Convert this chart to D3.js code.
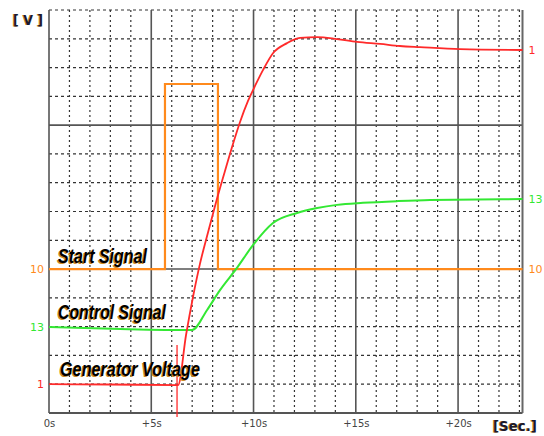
<!DOCTYPE html>
<html>
<head>
<meta charset="utf-8">
<script src="https://cdn.jsdelivr.net/npm/d3@7"></script>
<style>
  html, body { margin: 0; padding: 0; background: #fff; }
  svg { display: block; }
</style>
</head>
<body>
<svg id="chart" width="544" height="436"></svg>
<script>
// Time axis (seconds) and screen divisions
const timeTicks = [0, 5, 10, 15, 20];
const tickLabels = ["0s", "+5s", "+10s", "+15s", "+20s"];
const timeMax = 23.15;
const divisions = 14;

// Start Signal (orange), in divisions
const startT = [0, 5.67, 5.67, 8.26, 8.26, 23.15];
const startV = [5, 5, 11.43, 11.43, 5, 5];

// Control Signal (green)
const controlT = [0, 3.47, 6.99, 7.73, 8.36, 9.19, 9.98, 10.95, 12.13, 13.11, 14.08, 15.35, 17.02, 18.63, 23.15];
const controlV = [2.99, 2.92, 2.88, 3.58, 4.27, 5.04, 5.84, 6.60, 6.95, 7.12, 7.23, 7.30, 7.36, 7.40, 7.43];

// Generator Voltage (red)
const genT = [0, 3.0, 6.31, 6.70, 7.04, 7.38, 7.78, 8.17, 8.56, 8.95, 9.34, 9.73, 10.12, 10.46, 10.95, 11.64, 12.27, 13.11, 14.08, 15.06, 16.19, 17.16, 18.14, 20.1, 23.15];
const genV = [1.0, 0.99, 0.97, 2.71, 4.03, 5.18, 6.29, 7.33, 8.30, 9.24, 10.11, 10.84, 11.43, 11.91, 12.50, 12.85, 13.03, 13.06, 12.99, 12.89, 12.82, 12.75, 12.71, 12.64, 12.61];
// Switching spike on the generator trace
const spikeT = [6.26, 6.26];
const spikeV = [2.36, -0.14];

// Channel markers
const channelNames = ["Start Signal", "Control Signal", "Generator Voltage"];
const channelTags = ["10", "13", "1"];
const channelColors = ["#ff8a1c", "#33e833", "#ff2a2a"];

const svg = d3.select("#chart");
const plotLeft = 49, plotRight = 522.5, plotTop = 10, plotBottom = 413;

const x = d3.scaleLinear().domain([0, timeMax]).range([plotLeft, plotRight]);
const y = d3.scaleLinear().domain([0, divisions]).range([plotBottom, plotTop]);

// Grid: dotted every second / division, solid every fifth
const grid = svg.append("g");
d3.range(1, 24).filter(s => s % 5 !== 0 && s < timeMax).forEach(s => {
  grid.append("line")
    .attr("x1", x(s)).attr("x2", x(s)).attr("y1", plotTop).attr("y2", plotBottom)
    .attr("stroke", "#333").attr("stroke-width", 1.2).attr("stroke-dasharray", "2,3");
});
d3.range(1, divisions + 1).forEach(d => {
  const solid = d % 5 === 0;
  grid.append("line")
    .attr("x1", plotLeft).attr("x2", plotRight).attr("y1", y(d)).attr("y2", y(d))
    .attr("stroke", solid ? "#555" : "#333")
    .attr("stroke-width", solid ? 1.6 : 1.2)
    .attr("stroke-dasharray", solid ? null : "3,3");
});
timeTicks.forEach(s => {
  grid.append("line")
    .attr("x1", x(s)).attr("x2", x(s)).attr("y1", plotTop).attr("y2", plotBottom)
    .attr("stroke", "#555").attr("stroke-width", 1.6);
});
grid.append("line").attr("x1", plotLeft).attr("x2", plotRight).attr("y1", plotBottom).attr("y2", plotBottom)
  .attr("stroke", "#555").attr("stroke-width", 1.8);
grid.append("line").attr("x1", plotRight).attr("x2", plotRight).attr("y1", plotTop).attr("y2", plotBottom)
  .attr("stroke", "#666").attr("stroke-width", 2);

// Time axis labels
const xAxis = d3.axisBottom(x).tickValues(timeTicks).tickSize(0).tickPadding(0)
  .tickFormat((d, i) => tickLabels[i]);
const gx = svg.append("g").attr("transform", `translate(0,${plotBottom + 7})`).call(xAxis);
gx.select(".domain").remove();
gx.selectAll("text")
  .attr("fill", "#444")
  .attr("font-family", "'DejaVu Sans', sans-serif")
  .attr("font-size", 10);

// Traces
const zip = (t, v) => t.map((d, i) => [d, v[i]]);
const straight = d3.line().x(d => x(d[0])).y(d => y(d[1]));
const smooth = d3.line().x(d => x(d[0])).y(d => y(d[1])).curve(d3.curveMonotoneX);

svg.append("path").datum(zip(startT, startV)).attr("d", straight)
  .attr("fill", "none").attr("stroke", channelColors[0]).attr("stroke-width", 2.2);
svg.append("path").datum(zip(controlT, controlV)).attr("d", smooth)
  .attr("fill", "none").attr("stroke", channelColors[1]).attr("stroke-width", 2);
svg.append("path").datum(zip(spikeT, spikeV)).attr("d", straight)
  .attr("fill", "none").attr("stroke", channelColors[2]).attr("stroke-width", 1.3);
svg.append("path").datum(zip(genT, genV)).attr("d", smooth)
  .attr("fill", "none").attr("stroke", channelColors[2]).attr("stroke-width", 1.8);

// Channel level tags on both sides
const levels = [startV[0], controlV[0], genV[0]];
const levelsEnd = [startV[startV.length - 1], controlV[controlV.length - 1], genV[genV.length - 1]];
channelTags.forEach((tag, i) => {
  svg.append("text").attr("x", plotLeft - 5).attr("y", y(levels[i]) + 4)
    .attr("text-anchor", "end").attr("fill", channelColors[i])
    .attr("font-family", "'DejaVu Sans', sans-serif").attr("font-size", 11).text(tag);
  svg.append("text").attr("x", plotRight + 6).attr("y", y(levelsEnd[i]) + 4)
    .attr("text-anchor", "start").attr("fill", channelColors[i])
    .attr("font-family", "'DejaVu Sans', sans-serif").attr("font-size", 11).text(tag);
});

// Channel names
const nameBase = [263, 319, 376];
const nameX = [58, 58, 60];
const nameW = [89, 108, 140];
channelNames.forEach((name, i) => {
  [["#c98a25", -1.2, 0.6], ["#000", 0, 0]].forEach(([fill, dx, dy]) => {
    svg.append("text")
      .attr("x", nameX[i] + dx).attr("y", nameBase[i] + dy)
      .attr("fill", fill)
      .attr("font-family", "'Liberation Sans', Arial, sans-serif")
      .attr("font-weight", "bold").attr("font-style", "italic")
      .attr("font-size", 19.5)
      .attr("textLength", nameW[i]).attr("lengthAdjust", "spacingAndGlyphs")
      .text(name);
  });
});

// Unit labels
[["#c98a25", -1], ["#1a1a2e", 0]].forEach(([fill, dx]) => {
  svg.append("text").attr("x", 13 + dx).attr("y", 25)
    .attr("fill", fill).attr("font-family", "'DejaVu Sans', sans-serif")
    .attr("font-weight", "bold").attr("font-size", 14)
    .attr("textLength", 30).attr("lengthAdjust", "spacingAndGlyphs").text("[ V ]");
  svg.append("text").attr("x", 493 + dx).attr("y", 431)
    .attr("fill", fill).attr("font-family", "'DejaVu Sans', sans-serif")
    .attr("font-weight", "bold").attr("font-size", 14)
    .attr("textLength", 44).attr("lengthAdjust", "spacingAndGlyphs").text("[Sec.]");
});
</script>
</body>
</html>
